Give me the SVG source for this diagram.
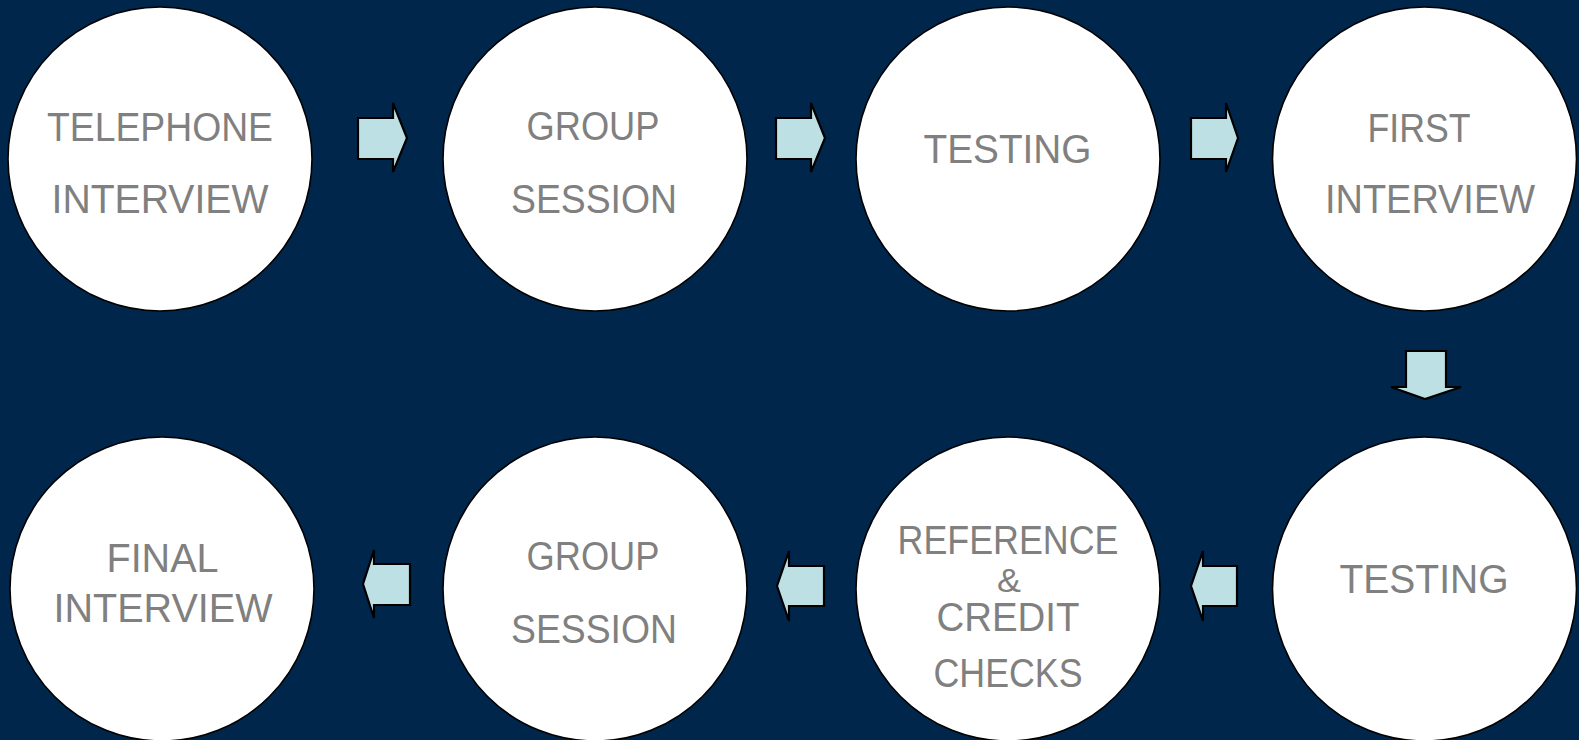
<svg xmlns="http://www.w3.org/2000/svg" width="1579" height="740" viewBox="0 0 1579 740">
<style>
.node circle{fill:#ffffff;stroke:#000000;stroke-width:1.6}
.node text{font-family:"Liberation Sans",Arial,sans-serif;font-size:40px;fill:#808080;text-anchor:middle}
.node text.amp{font-size:34px}
.arrow{fill:#bde0e4;stroke:#000000;stroke-width:2.2;stroke-linejoin:miter}
</style>
<rect width="1579" height="740" fill="#00264c"/>
<g id="n1" class="node"><circle cx="160" cy="159" r="152"/>
<text x="160" y="141" textLength="226" lengthAdjust="spacingAndGlyphs">TELEPHONE</text>
<text x="160" y="213" textLength="217" lengthAdjust="spacingAndGlyphs">INTERVIEW</text></g>
<g id="n2" class="node"><circle cx="595" cy="159" r="152"/>
<text x="593" y="140" textLength="133" lengthAdjust="spacingAndGlyphs">GROUP</text>
<text x="594" y="213" textLength="166" lengthAdjust="spacingAndGlyphs">SESSION</text></g>
<g id="n3" class="node"><circle cx="1008" cy="159" r="152"/>
<text x="1007.5" y="162.5" textLength="168" lengthAdjust="spacingAndGlyphs">TESTING</text></g>
<g id="n4" class="node"><circle cx="1424.5" cy="159" r="152"/>
<text x="1419" y="141.5" textLength="103" lengthAdjust="spacingAndGlyphs">FIRST</text>
<text x="1430" y="213" textLength="210" lengthAdjust="spacingAndGlyphs">INTERVIEW</text></g>
<g id="n5" class="node"><circle cx="1424.5" cy="589" r="152"/>
<text x="1424" y="592.5" textLength="169" lengthAdjust="spacingAndGlyphs">TESTING</text></g>
<g id="n6" class="node"><circle cx="1008" cy="589" r="152"/>
<text x="1008" y="554" textLength="221" lengthAdjust="spacingAndGlyphs">REFERENCE</text>
<text class="amp" x="1009" y="592" textLength="24" lengthAdjust="spacingAndGlyphs">&amp;</text>
<text x="1008" y="631" textLength="143" lengthAdjust="spacingAndGlyphs">CREDIT</text>
<text x="1008" y="687" textLength="149" lengthAdjust="spacingAndGlyphs">CHECKS</text></g>
<g id="n7" class="node"><circle cx="595" cy="589" r="152"/>
<text x="593" y="570" textLength="133" lengthAdjust="spacingAndGlyphs">GROUP</text>
<text x="594" y="643" textLength="166" lengthAdjust="spacingAndGlyphs">SESSION</text></g>
<g id="n8" class="node"><circle cx="162" cy="589" r="152"/>
<text x="162.5" y="571.5" textLength="112" lengthAdjust="spacingAndGlyphs">FINAL</text>
<text x="163" y="621.5" textLength="219" lengthAdjust="spacingAndGlyphs">INTERVIEW</text></g>
<g id="connectors">
<path class="arrow" d="M358,118 H393 V103 L407,138 L393,172 V159 H358 Z"/>
<path class="arrow" d="M776,118 H811 V103 L825,138 L811,172 V159 H776 Z"/>
<path class="arrow" d="M1191,118 H1226 V103 L1238,138 L1226,172 V159 H1191 Z"/>
<path class="arrow" d="M1406,351 H1446 V387 H1461 L1425,399 L1391,387 H1406 Z"/>
<path class="arrow" d="M1237,566 H1203 V551 L1191,586 L1203,621 V606 H1237 Z"/>
<path class="arrow" d="M824,566 H789 V551 L777,586 L789,621 V606 H824 Z"/>
<path class="arrow" d="M410,564 H374 V550 L363,584 L374,618 V605 H410 Z"/>
</g>
</svg>
